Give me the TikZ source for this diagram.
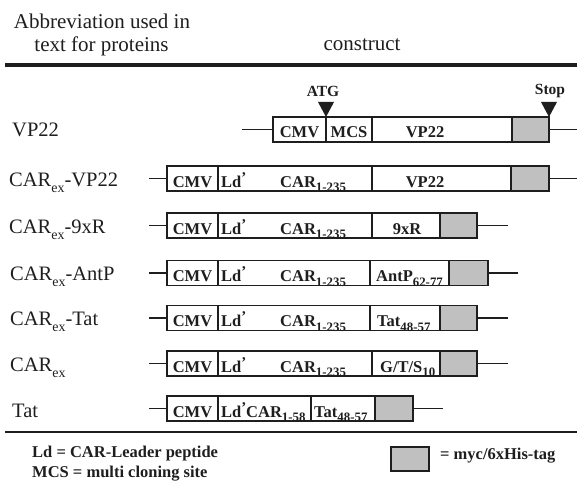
\documentclass[tikz,border=0pt]{standalone}
\usepackage{fontspec}
\setmainfont{Liberation Serif}
\usetikzlibrary{calc}
\definecolor{taggray}{RGB}{192,192,192}
\definecolor{inkc}{RGB}{30,30,30}
\newcommand\segnode[5][]{\node[segshape,#1,minimum width={(#4)-(#3)}] (#2) at ({((#3)+(#4))/2},#5) {};}
\newcommand\bsub[1]{\raisebox{-0.28em}{\scalebox{0.78}{#1}}}
\newcommand\lsub[1]{\raisebox{-0.3em}{\scalebox{0.68}{#1}}}
\newcommand\ldp{Ld\raisebox{0.3em}{\scalebox{0.9}{'}}}
\tikzset{
  segshape/.style={draw=inkc, line width=1.8pt, minimum height=25pt, inner sep=0pt, outer sep=0pt, fill=white},
  tagshape/.style={fill=taggray},
  wire/.style={draw=inkc, line width=1.8pt},
  btxt/.style={font=\fontsize{16.5}{18}\selectfont\bfseries, inner sep=0pt, text=inkc},
  ltxt/.style={font=\fontsize{20.5}{24}\selectfont, inner sep=0pt, anchor=base west, text=inkc},
  htxt/.style={font=\fontsize{21}{24}\selectfont, inner sep=0pt, anchor=base, text=inkc},
  trimark/.style={fill=inkc},
}
\begin{document}
\begin{tikzpicture}[x=1pt,y=-1pt]
\useasboundingbox (0,0) rectangle (577,486);
% header
\node[htxt] (h1) at (102,29) {Abbreviation used in};
\node[htxt] (h2) at (101.5,52) {text for proteins};
\node[htxt] (h3) at (362,51) {construct};
\coordinate (rt1) at (5,65);
\coordinate (rt2) at (577,65);
\draw[draw=inkc, line width=3.5pt] (rt1) -- (rt2);
% ---------- row 1: VP22 ----------
\def\ry{129.5}
\node[ltxt] (l1) at (12,137) {VP22};
\segnode{r1cmv}{273}{326}{\ry}
\segnode{r1mcs}{326}{372}{\ry}
\segnode{r1vp}{372}{512}{\ry}
\segnode[tagshape]{r1tag}{512}{549}{\ry}
\coordinate (r1l) at (242,\ry);
\coordinate (r1r) at (577,\ry);
\draw[wire] (r1l) -- (r1cmv.west);
\draw[wire] (r1tag.east) -- (r1r);
\node[btxt, anchor=base] at (299.5,138) {CMV};
\node[btxt, anchor=base] at (349,138) {MCS};
\node[btxt, anchor=base] at (425,138) {VP22};
\fill[trimark] ($(r1cmv.north east)+(-8,-15)$) -- ++(16,0) -- (r1cmv.north east) -- cycle;
\fill[trimark] ($(r1tag.north east)+(-8,-15)$) -- ++(16,0) -- (r1tag.north east) -- cycle;
\node[btxt, font=\fontsize{15.5}{18}\selectfont\bfseries, anchor=base] (atg) at (323,97) {ATG};
\node[btxt, font=\fontsize{15.5}{18}\selectfont\bfseries, anchor=base] (stop) at (550,95) {Stop};
% ---------- row 2: CARex-VP22 ----------
\def\ry{178.5}
\node[ltxt] (l2) at (9,186) {CAR\lsub{ex}-VP22};
\segnode{r2cmv}{167}{218}{\ry}
\segnode{r2car}{218}{372}{\ry}
\segnode{r2vp}{372}{511}{\ry}
\segnode[tagshape]{r2tag}{511}{549}{\ry}
\coordinate (r2l) at (149,\ry);
\coordinate (r2r) at (577,\ry);
\draw[wire] (r2l) -- (r2cmv.west);
\draw[wire] (r2tag.east) -- (r2r);
\node[btxt, anchor=base] at (192.5,187) {CMV};
\node[btxt, anchor=base west] at (221,187) {\ldp};
\node[btxt, anchor=base west] at (280,187) {CAR\bsub{1-235}};
\node[btxt, anchor=base] at (425,187) {VP22};
% ---------- row 3: CARex-9xR ----------
\def\ry{225.5}
\node[ltxt] (l3) at (9,233) {CAR\lsub{ex}-9xR};
\segnode{r3cmv}{167}{218}{\ry}
\segnode{r3car}{218}{372}{\ry}
\segnode{r3r9}{372}{440}{\ry}
\segnode[tagshape]{r3tag}{440}{477}{\ry}
\coordinate (r3l) at (149,\ry);
\coordinate (r3r) at (508,\ry);
\draw[wire] (r3l) -- (r3cmv.west);
\draw[wire] (r3tag.east) -- (r3r);
\node[btxt, anchor=base] at (192.5,234) {CMV};
\node[btxt, anchor=base west] at (221,234) {\ldp};
\node[btxt, anchor=base west] at (280,234) {CAR\bsub{1-235}};
\node[btxt, anchor=base] at (407,234) {9xR};
% ---------- row 4: CARex-AntP ----------
\def\ry{273}
\node[ltxt] (l4) at (10,280.5) {CAR\lsub{ex}-AntP};
\segnode{r4cmv}{167}{218}{\ry}
\segnode{r4car}{218}{370}{\ry}
\segnode{r4ant}{370}{449}{\ry}
\segnode[tagshape]{r4tag}{449}{488}{\ry}
\coordinate (r4l) at (149,\ry);
\coordinate (r4r) at (518,\ry);
\draw[wire] (r4l) -- (r4cmv.west);
\draw[wire] (r4tag.east) -- (r4r);
\node[btxt, anchor=base] at (192.5,281.5) {CMV};
\node[btxt, anchor=base west] at (221,281.5) {\ldp};
\node[btxt, anchor=base west] at (280,281.5) {CAR\bsub{1-235}};
\node[btxt, anchor=base west] at (376,281.5) {AntP\bsub{62-77}};
% ---------- row 5: CARex-Tat ----------
\def\ry{318}
\node[ltxt] (l5) at (10,325.5) {CAR\lsub{ex}-Tat};
\segnode{r5cmv}{167}{218}{\ry}
\segnode{r5car}{218}{370}{\ry}
\segnode{r5tat}{370}{440}{\ry}
\segnode[tagshape]{r5tag}{440}{477}{\ry}
\coordinate (r5l) at (149,\ry);
\coordinate (r5r) at (508,\ry);
\draw[wire] (r5l) -- (r5cmv.west);
\draw[wire] (r5tag.east) -- (r5r);
\node[btxt, anchor=base] at (192.5,326.5) {CMV};
\node[btxt, anchor=base west] at (221,326.5) {\ldp};
\node[btxt, anchor=base west] at (280,326.5) {CAR\bsub{1-235}};
\node[btxt, anchor=base west] at (377,326.5) {Tat\bsub{48-57}};
% ---------- row 6: CARex ----------
\def\ry{363.5}
\node[ltxt] (l6) at (10,371) {CAR\lsub{ex}};
\segnode{r6cmv}{167}{218}{\ry}
\segnode{r6car}{218}{372}{\ry}
\segnode{r6gts}{372}{440}{\ry}
\segnode[tagshape]{r6tag}{440}{477}{\ry}
\coordinate (r6l) at (149,\ry);
\coordinate (r6r) at (508,\ry);
\draw[wire] (r6l) -- (r6cmv.west);
\draw[wire] (r6tag.east) -- (r6r);
\node[btxt, anchor=base] at (192.5,372) {CMV};
\node[btxt, anchor=base west] at (221,372) {\ldp};
\node[btxt, anchor=base west] at (280,372) {CAR\bsub{1-235}};
\node[btxt, anchor=base west] at (380,372) {G/T/S\bsub{10}};
% ---------- row 7: Tat ----------
\def\ry{408.5}
\node[ltxt] (l7) at (12,417) {Tat};
\segnode{r7cmv}{167}{218}{\ry}
\segnode{r7car}{218}{311}{\ry}
\segnode{r7tat}{311}{375}{\ry}
\segnode[tagshape]{r7tag}{375}{413}{\ry}
\coordinate (r7l) at (149,\ry);
\coordinate (r7r) at (443,\ry);
\draw[wire] (r7l) -- (r7cmv.west);
\draw[wire] (r7tag.east) -- (r7r);
\node[btxt, anchor=base] at (192.5,417) {CMV};
\node[btxt, anchor=base west] at (221,417) {\ldp};
\node[btxt, anchor=base west] at (246,417) {CAR\bsub{1-58}};
\node[btxt, anchor=base west] at (314,417) {Tat\bsub{48-57}};
% bottom rule
\coordinate (rb1) at (5,432);
\coordinate (rb2) at (577,432);
\draw[draw=inkc, line width=2.8pt] (rb1) -- (rb2);
% legend
\node[btxt, anchor=base west] (lg1) at (32,457) {Ld = CAR-Leader peptide};
\node[btxt, anchor=base west] (lg2) at (32,477) {MCS = multi cloning site};
\node[segshape, tagshape, minimum width=38pt, minimum height=24pt] (lgbox) at (410,459) {};
\node[btxt, anchor=base west] (lg3) at (440,459) {= myc/6xHis-tag};
\end{tikzpicture}
\end{document}
